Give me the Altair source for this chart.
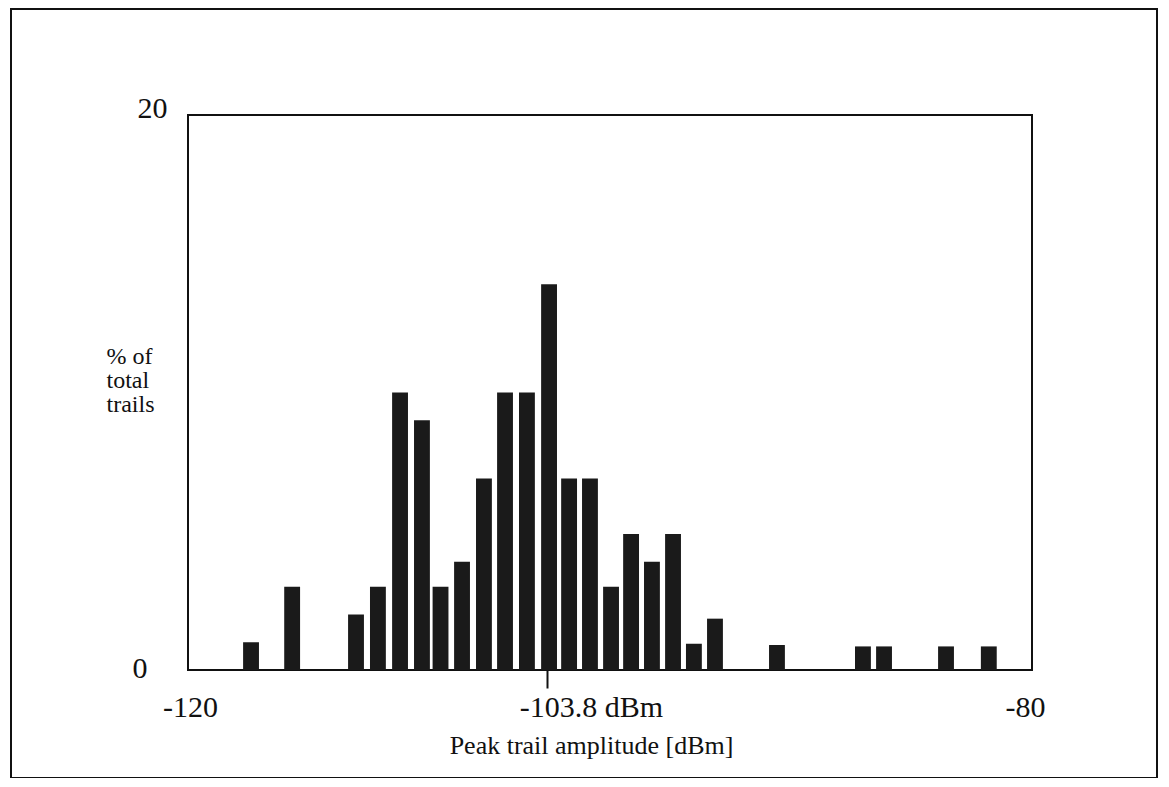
import altair as alt
import pandas as pd

# Bin centres (dBm) and heights (% of total trails)
centers = [-117.08, -115.11, -112.05, -111.0, -109.94, -108.89, -108.0, -106.97,
           -105.92, -104.91, -103.86, -102.8, -101.84, -100.84, -99.83, -98.87,
           -97.87, -96.86, -95.86, -94.85, -91.88, -87.76, -86.75, -83.78, -81.73]
percent = [1.0, 3.0, 2.0, 3.0, 10.0, 9.0, 3.0, 3.9, 6.9, 10.0, 10.0, 13.9, 6.9,
           6.9, 3.0, 4.9, 3.9, 4.9, 0.95, 1.85, 0.9, 0.85, 0.85, 0.85, 0.85]
half_width = 0.38

x_ticks = [-120, -102.9, -80]
x_tick_labels = ["-120", "-103.8 dBm", "-80"]
y_ticks = [0, 20]

df = pd.DataFrame({
    "lo": [c - half_width for c in centers],
    "hi": [c + half_width for c in centers],
    "pct": percent,
})

FONT = "Liberation Serif"

label_expr = ("datum.value < -110 ? '%s' : (datum.value > -90 ? '%s' : '%s')"
              % (x_tick_labels[0], x_tick_labels[2], x_tick_labels[1]))

xscale = alt.Scale(domain=[-120.1, -79.66], nice=False, zero=False)
yscale = alt.Scale(domain=[0, 20], nice=False)

bars = alt.Chart(df).mark_rect(color="#1a1a1a").encode(
    x=alt.X("lo:Q", scale=xscale, axis=alt.Axis(
        values=x_ticks, labelExpr=label_expr, title="Peak trail amplitude [dBm]",
        domain=False, grid=False, tickSize=18, tickWidth=2, tickColor="#111",
        tickOpacity={"condition": {"test": "datum.value > -110 && datum.value < -90", "value": 1}, "value": 0},
        labelOffset={"condition": {"test": "datum.value > -110 && datum.value < -90", "value": 44}, "value": 0},
        labelFont=FONT, labelFontSize=30, labelColor="#111", labelPadding=4,
        labelBaseline="top", labelFlush=False, labelOverlap=False, labelBound=False,
        titleFont=FONT, titleFontSize=26, titleFontWeight="normal", titleColor="#111",
        titleX=403, titleY=62, titleAlign="center", titleBaseline="top",
    )),
    x2="hi:Q",
    y=alt.Y("pct:Q", scale=yscale, axis=alt.Axis(
        values=y_ticks, format="d", title=["% of", "total", "trails"],
        domain=False, grid=False, ticks=False, tickSize=0,
        labelFont=FONT, labelFontSize=30, labelColor="#111",
        labelAlign="right", labelBaseline="middle",
        labelPadding={"condition": {"test": "datum.value == 20", "value": 21}, "value": 41},
        labelOffset={"condition": {"test": "datum.value == 20", "value": -7}, "value": -2},
        titleFont=FONT, titleFontSize=24, titleFontWeight="normal", titleColor="#111",
        titleAngle=0, titleAlign="left", titleBaseline="top", titleLineHeight=24,
        titleX=-82, titleY=229,
    )),
    y2=alt.value(555),
)

frame = alt.Chart(pd.DataFrame({"k": [0]})).mark_rect(
    fill=None, stroke="#111", strokeWidth=2
).encode(
    x=alt.value(-177), x2=alt.value(969), y=alt.value(-106), y2=alt.value(663)
)

chart = alt.layer(frame, bars).properties(
    width=844, height=555,
    padding={"left": 180, "top": 107, "right": 128, "bottom": 108},
    autosize="none",
).configure(background="white").configure_view(stroke="#111", strokeWidth=2)

chart.save("out.html", embed_options={"renderer": "svg", "actions": False})
